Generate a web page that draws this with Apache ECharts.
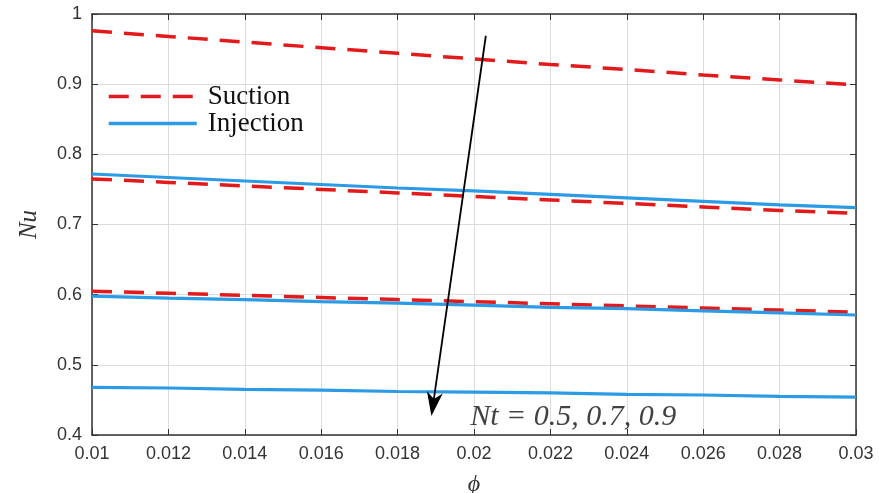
<!DOCTYPE html>
<html>
<head>
<meta charset="UTF-8">
<title>Nu vs phi</title>
<script src="https://cdn.jsdelivr.net/npm/echarts@6/dist/echarts.min.js"></script>
<style>body{margin:0;background:#fff}</style>
</head>
<body>
<div id="chart" style="width:879px;height:493px;"></div>
<script>
var phi = [0.01, 0.012, 0.014, 0.016, 0.018, 0.02, 0.022, 0.024, 0.026, 0.028, 0.03];
var xTicks = ['0.01', '0.012', '0.014', '0.016', '0.018', '0.02', '0.022', '0.024', '0.026', '0.028', '0.03'];

// suction (dashed red), Nt = 0.5, 0.7, 0.9
var suction05 = [0.976, 0.968, 0.960, 0.952, 0.944, 0.936, 0.928, 0.921, 0.913, 0.906, 0.899];
var suction07 = [0.765, 0.760, 0.755, 0.750, 0.745, 0.740, 0.735, 0.730, 0.725, 0.720, 0.716];
var suction09 = [0.605, 0.602, 0.599, 0.596, 0.593, 0.590, 0.587, 0.584, 0.581, 0.578, 0.575];

// injection (solid blue)
var injection05 = [0.772, 0.767, 0.762, 0.757, 0.752, 0.748, 0.743, 0.738, 0.733, 0.728, 0.724];
var injection07 = [0.598, 0.595, 0.593, 0.590, 0.588, 0.585, 0.582, 0.580, 0.577, 0.574, 0.571];
var injection09 = [0.468, 0.467, 0.465, 0.464, 0.462, 0.461, 0.460, 0.458, 0.457, 0.455, 0.454];

// arrow showing increasing Nt
var arrowStart = [0.02031, 0.969];
var arrowEnd = [0.01893, 0.444];
var notePos = [0.02260, 0.426];
var noteText = 'Nt = 0.5, 0.7, 0.9';

function pairs(ys) {
    return ys.map(function (v, i) { return [phi[i], v]; });
}

var red = '#e31a1c';
var blue = '#2b9be6';

function suctionSeries(ys) {
    return {
        type: 'line', name: 'Suction',
        data: pairs(ys), showSymbol: false, symbol: 'none',
        lineStyle: {color: red, width: 3.5, type: [20, 12]},
        itemStyle: {color: red}, z: 3
    };
}
function injectionSeries(ys) {
    return {
        type: 'line', name: 'Injection',
        data: pairs(ys), showSymbol: false, symbol: 'none',
        lineStyle: {color: blue, width: 3.2, type: 'solid'},
        itemStyle: {color: blue}, z: 3
    };
}

var chart = echarts.init(document.getElementById('chart'), null, {renderer: 'canvas'});

var axisLabelStyle = {color: '#333', fontSize: 18, fontFamily: 'Liberation Sans, Arial, sans-serif'};
var serif = 'Liberation Serif, Times New Roman, serif';

var option = {
    animation: false,
    backgroundColor: '#fff',
    grid: {left: 92, right: 23, top: 14, bottom: 58, containLabel: false, outerBoundsMode: 'none'},
    legend: {
        orient: 'vertical', left: 102, top: 78, itemGap: 0,
        itemWidth: 88, itemHeight: 14,
        data: ['Suction', 'Injection'],
        itemStyle: {opacity: 0},
        lineStyle: {width: 3.5},
        textStyle: {fontFamily: serif, fontSize: 27, color: '#111', padding: [0, 0, 0, 6]}
    },
    xAxis: [{
        type: 'value', min: 0.01, max: 0.03, interval: 0.002,
        name: 'ϕ', nameLocation: 'middle', nameGap: 38,
        nameTextStyle: {fontFamily: serif, fontStyle: 'italic', fontSize: 24, color: '#333'},
        axisLine: {show: true, lineStyle: {color: '#333', width: 1.5}},
        axisTick: {show: true, inside: true, length: 6, lineStyle: {color: '#333'}},
        axisLabel: Object.assign({margin: 10, formatter: function (v, i) { return xTicks[i]; }}, axisLabelStyle),
        splitLine: {show: true, lineStyle: {color: '#dcdcdc', width: 1}}
    }, {
        type: 'value', position: 'top', min: 0.01, max: 0.03, interval: 0.002,
        axisLine: {show: true, lineStyle: {color: '#333', width: 1.5}},
        axisTick: {show: true, inside: true, length: 6, lineStyle: {color: '#333'}},
        axisLabel: {show: false}, splitLine: {show: false}
    }],
    yAxis: [{
        type: 'value', min: 0.4, max: 1, interval: 0.1,
        name: 'Nu', nameLocation: 'middle', nameGap: 50, nameRotate: 90,
        nameTextStyle: {fontFamily: serif, fontStyle: 'italic', fontSize: 25, color: '#333'},
        axisLine: {show: true, lineStyle: {color: '#333', width: 1.5}},
        axisTick: {show: true, inside: true, length: 6, lineStyle: {color: '#333'}},
        axisLabel: Object.assign({margin: 10, formatter: function (v) { return String(Math.round(v * 10) / 10); }}, axisLabelStyle),
        splitLine: {show: true, lineStyle: {color: '#dcdcdc', width: 1}}
    }, {
        type: 'value', position: 'right', min: 0.4, max: 1, interval: 0.1,
        axisLine: {show: true, lineStyle: {color: '#333', width: 1.5}},
        axisTick: {show: true, inside: true, length: 6, lineStyle: {color: '#333'}},
        axisLabel: {show: false}, splitLine: {show: false}
    }],
    series: [
        suctionSeries(suction05),
        suctionSeries(suction07),
        suctionSeries(suction09),
        injectionSeries(injection05),
        injectionSeries(injection07),
        injectionSeries(injection09),
        {
            type: 'line', name: 'arrow', data: [], z: 5, silent: true,
            markLine: {
                silent: true, animation: false,
                symbol: ['none', 'path://M5,0 L10,14 L5,10 L0,14 Z'], symbolSize: [16, 24],
                lineStyle: {color: '#000', width: 1.8, type: 'solid'},
                label: {show: false},
                data: [[{coord: arrowStart}, {coord: arrowEnd}]]
            }
        },
        {
            type: 'scatter', name: 'note', symbolSize: 0, silent: true, z: 5,
            data: [notePos],
            label: {
                show: true, position: 'inside', formatter: noteText,
                fontFamily: serif, fontStyle: 'italic',
                fontSize: 30, color: '#111'
            }
        }
    ]
};
chart.setOption(option);
</script>
</body>
</html>
